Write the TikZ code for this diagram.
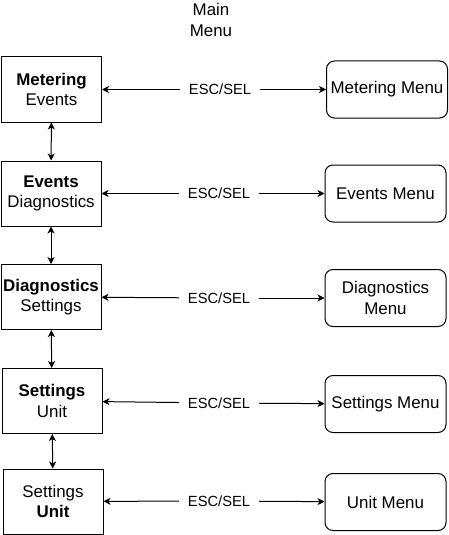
\documentclass[tikz,border=0pt]{standalone}
\usepackage{fontspec}
\setmainfont{Liberation Sans}
\usetikzlibrary{arrows.meta}
\tikzset{>={Stealth[length=7pt,width=7pt,inset=2pt]}}
\tikzset{
	menubox/.style={draw, line width=1, minimum width=100, minimum height=65, align=center, inner sep=0},
	submenu/.style={draw, line width=1, rounded corners=8, minimum width=121, minimum height=57, align=center, inner sep=0},
	esclabel/.style={minimum width=79, inner sep=0, font=\fontsize{14.7pt}{18pt}\selectfont}
}

\begin{document}
\begin{tikzpicture}[x=1pt, y=-1pt, line width=1, font=\fontsize{16.9pt}{20.2pt}\selectfont]
			% Frame
			\useasboundingbox (0,0) rectangle (448,535);
			
			% Title
			\node (title) at (211,20) [align=center] {Main\\Menu};
			
			% Main menu boxes
			\node[menubox] (metering) at (51.5,89.5) {\textbf{Metering}\\Events};
			\node[menubox] (events) at (51,193.5) {\textbf{Events}\\Diagnostics};
			\node[menubox] (diagnostics) at (51,297) {\textbf{Diagnostics}\\Settings};
			\node[menubox] (settings) at (52,401) {\textbf{Settings}\\Unit};
			\node[menubox] (unit) at (53,501.5) {Settings\\\textbf{Unit}};
			
			% Sub menus
			\node[submenu] (meteringmenu) at (387,89.5) {Metering Menu};
			\node[submenu] (eventsmenu) at (385.5,193.5) {Events Menu};
			\node[submenu] (diagnosticsmenu) at (385.5,298) {Diagnostics\\Menu};
			\node[submenu] (settingsmenu) at (385.5,404) {Settings Menu};
			\node[submenu] (unitmenu) at (385.5,502) {Unit Menu};
			
			% Key labels
			\node[esclabel] (esc1) at (220,89.5) {ESC/SEL};
			\node[esclabel] (esc2) at (219,193.5) {ESC/SEL};
			\node[esclabel] (esc3) at (219,298) {ESC/SEL};
			\node[esclabel] (esc4) at (219,403) {ESC/SEL};
			\node[esclabel] (esc5) at (219,501) {ESC/SEL};
			
			% Arrows
			\draw[->] (esc1) -- (metering);
			\draw[->] (esc1) -- (meteringmenu);
			\draw[->] (esc2) -- (events);
			\draw[->] (esc2) -- (eventsmenu);
			\draw[->] (esc3) -- (diagnostics);
			\draw[->] (esc3) -- (diagnosticsmenu);
			\draw[->] (esc4) -- (settings);
			\draw[->] (esc4) -- (settingsmenu);
			\draw[->] (esc5) -- (unit);
			\draw[->] (esc5) -- (unitmenu);
			
			% Scrolling
			\draw[<->] (metering) -- (events);
			\draw[<->] (events) -- (diagnostics);
			\draw[<->] (diagnostics) -- (settings);
			\draw[<->] (settings) -- (unit);
		\end{tikzpicture}
\end{document}
